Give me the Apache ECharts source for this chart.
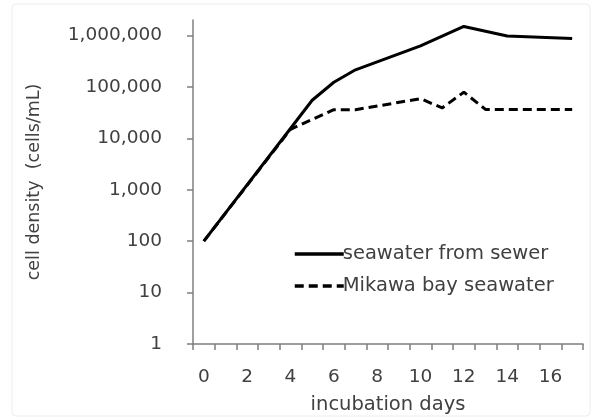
<!DOCTYPE html>
<html><head><meta charset="utf-8">
<script src="https://cdn.jsdelivr.net/npm/echarts@6/dist/echarts.min.js"></script>
<style>html,body{margin:0;padding:0;background:#fff}#c{width:594px;height:418px}</style>
</head><body><div id="c"></div>
<script>
const days = ['0','1','2','3','4','5','6','7','8','9','10','11','12','13','14','15','16','17'];
const sewer = [100, null, null, null, 15500, 55000, 123000, 215000, null, null, 630000, null, 1500000, null, 975000, null, null, 870000];
const mikawa = [100, null, null, null, 15000, null, 36000, 36000, null, null, 59000, 39000, 79000, 36500, null, null, null, 36500];
const yTicks = [1, 10, 100, 1000, 10000, 100000, 1000000];
const seriesNames = ['seawater from sewer', 'Mikawa bay seawater'];
const FONT = 'DejaVu Sans';
const TXT = '#404040';
const chart = echarts.init(document.getElementById('c'), null, {renderer:'canvas'});
chart.setOption({
  animation: false,
  backgroundColor: '#fff',
  graphic: [{type:'rect', shape:{x:12, y:4, width:578, height:412, r:4}, style:{fill:'none', stroke:'#ececec', lineWidth:1}, silent:true}],
  grid: {left:193, right:11, top:20, bottom:74, containLabel:false, outerBoundsMode:'none'},
  legend: {
    orient:'vertical', left:288, top:239, itemWidth:49, itemHeight:20, itemGap:12,
    data: seriesNames,
    itemStyle:{opacity:0},
    lineStyle:{width:3.5},
    textStyle:{fontFamily:FONT, fontSize:19.5, color:TXT, padding:[0,0,0,-6]}
  },
  xAxis: {
    type:'category', data:days, boundaryGap:true,
    name:'incubation days', nameLocation:'middle', nameGap:51,
    nameTextStyle:{fontFamily:FONT, fontSize:19.5, color:TXT},
    axisLine:{lineStyle:{color:'#7f7f7f', width:1.5}},
    axisTick:{show:true, interval:0, length:6, inside:false, lineStyle:{color:'#7f7f7f', width:1.5}},
    axisLabel:{interval:1, fontFamily:FONT, fontSize:18.5, color:TXT, margin:24},
    splitLine:{show:false}
  },
  yAxis: {
    type:'log', logBase:10, min:1, max:2000000,
    name:'cell density  (cells/mL)', nameLocation:'middle', nameGap:150, nameRotate:90,
    nameTextStyle:{fontFamily:FONT, fontSize:17.5, color:TXT},
    axisLine:{show:true, lineStyle:{color:'#7f7f7f', width:1.5}},
    axisTick:{show:true, length:6, customValues:yTicks, lineStyle:{color:'#7f7f7f', width:1.5}},
    axisLabel:{customValues:yTicks, fontFamily:FONT, fontSize:18.5, color:TXT, margin:31,
      formatter: v => Number(v).toLocaleString('en-US')},
    splitLine:{show:false}
  },
  series: [
    {name:seriesNames[0], type:'line', data:sewer, connectNulls:true, symbol:'none',
     lineStyle:{color:'#000', width:3}, itemStyle:{color:'#000'}},
    {name:seriesNames[1], type:'line', data:mikawa, connectNulls:true, symbol:'none',
     lineStyle:{color:'#000', width:3, type:[9,5]}, itemStyle:{color:'#000'}}
  ]
});
</script></body></html>
